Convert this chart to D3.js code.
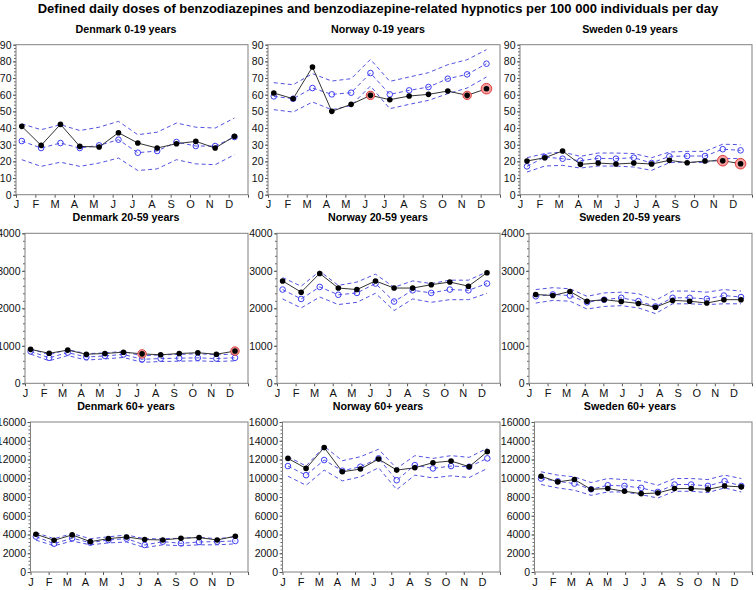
<!DOCTYPE html>
<html>
<head>
<meta charset="utf-8">
<script src="https://cdn.jsdelivr.net/npm/d3@7"></script>
<style>
  body { margin: 0; background: #fff; }
  text { font-family: "Liberation Sans", Arial, sans-serif; }
</style>
</head>
<body>
<script>
// Month labels and x positions (in month units)
const months = ["J", "F", "M", "A", "M", "J", "J", "A", "S", "O", "N", "D"];
const monthlyPos = months.map((m, i) => i + 0.3);
// Sweden reports 13 four-week periods: day of year of each period
const periodDays = [11, 39, 67, 95, 123, 151, 179, 207, 235, 263, 291, 319, 347];

const ageGroups = ["0-19 years", "20-59 years", "60+ years"];
const countries = ["Denmark", "Norway", "Sweden"];
const yMax = [90, 4000, 16000];
const yStep = [10, 1000, 2000];

// Denmark 0-19
const dk0019Obs = [41, 29.6, 42.2, 29, 28.6, 37.2, 31, 28, 30.6, 32, 28, 35];
const dk0019Exp = [32.2, 28, 31, 28, 29.6, 33, 25.2, 26.2, 31.6, 29.2, 29.2, 34.6];
const dk0019Hi = [42.5, 39, 42, 38.5, 40.5, 44, 36, 37.5, 43, 40.5, 40, 46];
const dk0019Lo = [21, 17, 19.5, 17, 19, 22, 14.5, 15.5, 21, 18.5, 18, 24];
const dk0019Flag = [0, 0, 0, 0, 0, 0, 0, 0, 0, 0, 0, 0];

// Norway 0-19
const no0019Obs = [61, 57.6, 76.6, 50, 54.2, 59.6, 57, 59.2, 60.2, 62.2, 59.6, 63.6];
const no0019Exp = [59, 57.6, 64, 60.2, 61.2, 73, 60.2, 62.6, 64.6, 69.6, 72.2, 78.6];
const no0019Hi = [67.2, 66, 72.6, 68.2, 69.6, 81.2, 68, 70.6, 73.2, 78, 81, 87];
const no0019Lo = [51, 49.6, 55.6, 51, 53.5, 65.2, 51.6, 54.2, 56.6, 60.6, 64, 70.6];
const no0019Flag = [0, 0, 0, 0, 0, 1, 0, 0, 0, 0, 1, 2];

// Sweden 0-19
const se0019Obs = [20.2, 22.2, 26.2, 18.2, 19, 18.4, 19, 18.4, 20.6, 19.2, 20.2, 20.4, 18.6];
const se0019Exp = [17, 22.6, 21.6, 20.4, 21.8, 21.6, 22.2, 19, 23, 23.2, 23.2, 27.3, 26.6];
const se0019Hi = [22.2, 24.7, 25.6, 23, 25, 25, 24.7, 22.2, 25.6, 26, 26, 30.3, 30];
const se0019Lo = [13.6, 17.2, 17.6, 16, 17.2, 17.2, 16.6, 14.6, 19.2, 19.6, 19.2, 21.7, 21.7];
const se0019Flag = [0, 0, 0, 0, 0, 0, 0, 0, 0, 0, 0, 2, 2];

// Denmark 20-59
const dk2059Obs = [905, 800, 885, 775, 795, 830, 785, 760, 795, 815, 775, 860];
const dk2059Exp = [850, 680, 820, 700, 730, 770, 640, 660, 670, 680, 660, 680];
const dk2059Hi = [920, 760, 900, 790, 810, 850, 730, 760, 770, 790, 760, 780];
const dk2059Lo = [780, 600, 740, 620, 650, 690, 560, 580, 590, 600, 580, 600];
const dk2059Flag = [0, 0, 0, 0, 0, 0, 1, 0, 0, 0, 0, 1];

// Norway 20-59
const no2059Obs = [2730, 2430, 2930, 2540, 2500, 2730, 2540, 2540, 2630, 2700, 2590, 2950];
const no2059Exp = [2500, 2250, 2570, 2360, 2410, 2660, 2180, 2480, 2410, 2500, 2480, 2660];
const no2059Hi = [2820, 2590, 2990, 2610, 2700, 2910, 2560, 2730, 2660, 2750, 2750, 2970];
const no2059Lo = [2250, 2010, 2300, 2100, 2160, 2400, 1940, 2250, 2160, 2230, 2230, 2400];
const no2059Flag = [0, 0, 0, 0, 0, 0, 0, 0, 0, 0, 0, 0];

// Sweden 20-59
const se2059Obs = [2370, 2340, 2450, 2190, 2230, 2180, 2130, 2030, 2210, 2190, 2140, 2230, 2230];
const se2059Exp = [2320, 2370, 2340, 2160, 2230, 2280, 2190, 2050, 2280, 2280, 2250, 2340, 2300];
const se2059Hi = [2500, 2550, 2520, 2320, 2410, 2430, 2390, 2210, 2460, 2460, 2430, 2500, 2460];
const se2059Lo = [2140, 2210, 2190, 1980, 2050, 2070, 2010, 1860, 2120, 2120, 2100, 2120, 2120];
const se2059Flag = [0, 0, 0, 0, 0, 0, 0, 0, 0, 0, 0, 0, 0];

// Denmark 60+
const dk60Obs = [4030, 3380, 3960, 3240, 3560, 3740, 3460, 3420, 3600, 3670, 3420, 3820];
const dk60Exp = [3780, 3020, 3600, 3130, 3420, 3560, 2880, 3240, 3060, 3200, 3240, 3310];
const dk60Hi = [4200, 3550, 4100, 3550, 3750, 3950, 3550, 3550, 3600, 3700, 3550, 3750];
const dk60Lo = [3400, 2800, 3300, 2900, 3100, 3200, 2600, 2900, 2800, 2900, 2900, 3000];
const dk60Flag = [0, 0, 0, 0, 0, 0, 0, 0, 0, 0, 0, 0];

// Norway 60+
const no60Obs = [12120, 11050, 13270, 10690, 10980, 12050, 10870, 11120, 11660, 11840, 11230, 12840];
const no60Exp = [11300, 10330, 11940, 10800, 11230, 12120, 9790, 11400, 11050, 11300, 11230, 12120];
const no60Hi = [12300, 11300, 13400, 11870, 12300, 13090, 11050, 12410, 12120, 12410, 12230, 13200];
const no60Lo = [10220, 9250, 10870, 9720, 10150, 11120, 8790, 10330, 10040, 10260, 10080, 11050];
const no60Flag = [0, 0, 0, 0, 0, 0, 0, 0, 0, 0, 0, 0];

// Sweden 60+
const se60Obs = [10220, 9610, 9860, 8820, 8900, 8610, 8360, 8430, 8900, 8900, 8820, 9180, 9080];
const se60Exp = [9970, 9680, 9430, 8820, 9250, 9180, 8970, 8540, 9330, 9330, 9180, 9680, 9180];
const se60Hi = [10690, 10330, 10150, 9540, 9970, 9860, 9720, 9250, 9970, 9970, 9860, 10330, 9970];
const se60Lo = [9330, 8970, 8720, 8180, 8540, 8540, 8250, 7890, 8610, 8610, 8470, 8970, 8540];
const se60Flag = [0, 0, 0, 0, 0, 0, 0, 0, 0, 0, 0, 0, 0];

const seriesGrid = [
    [[dk0019Obs, dk0019Exp, dk0019Hi, dk0019Lo, dk0019Flag],
     [no0019Obs, no0019Exp, no0019Hi, no0019Lo, no0019Flag],
     [se0019Obs, se0019Exp, se0019Hi, se0019Lo, se0019Flag]],
    [[dk2059Obs, dk2059Exp, dk2059Hi, dk2059Lo, dk2059Flag],
     [no2059Obs, no2059Exp, no2059Hi, no2059Lo, no2059Flag],
     [se2059Obs, se2059Exp, se2059Hi, se2059Lo, se2059Flag]],
    [[dk60Obs, dk60Exp, dk60Hi, dk60Lo, dk60Flag],
     [no60Obs, no60Exp, no60Hi, no60Lo, no60Flag],
     [se60Obs, se60Exp, se60Hi, se60Lo, se60Flag]]
];

// Layout
const width = 756, height = 590;
const cellW = 252;
const rowTops = [44.7, 233.3, 422];
const plotH = 150;
const leftPad = [16, 25, 30.5];
const rightPad = 4;

const blue = "#5252e2";
const frameColor = "#808080";
const tickFont = "10.5px";

const svg = d3.select("body").append("svg")
    .attr("width", width)
    .attr("height", height);

svg.append("text")
    .attr("x", 378)
    .attr("y", 13)
    .attr("text-anchor", "middle")
    .style("font-size", "13px")
    .style("font-weight", "bold")
    .text("Defined daily doses of benzodiazepines and benzodiazepine-related hypnotics per 100 000 individuals per day");

seriesGrid.forEach((row, r) => {
    row.forEach((series, c) => {
        const [obs, exp, hi, lo, flag] = series;
        const x0 = c * cellW + leftPad[r];
        const x1 = (c + 1) * cellW - rightPad;
        const y0 = rowTops[r];
        const y1 = y0 + plotH;

        const xPos = obs.length === 13
            ? periodDays.map(d => d / 365 * 12)
            : monthlyPos;

        const x = d3.scaleLinear().domain([0, 12]).range([x0, x1]);
        const y = d3.scaleLinear().domain([0, yMax[r]]).range([y1, y0]);

        const g = svg.append("g");

        // panel title
        g.append("text")
            .attr("x", c * cellW + 126)
            .attr("y", y0 - 12)
            .attr("text-anchor", "middle")
            .style("font-size", "10.7px")
            .style("font-weight", "bold")
            .text(countries[c] + " " + ageGroups[r]);

        // minor y ticks
        g.append("g")
            .attr("transform", `translate(${x0},0)`)
            .call(d3.axisLeft(y)
                .tickValues(d3.range(0, yMax[r] + 1e-6, yStep[r] / 5))
                .tickSize(2)
                .tickFormat(""))
            .call(a => a.select(".domain").remove())
            .call(a => a.selectAll("line").attr("stroke", "#666"));

        // major y ticks
        g.append("g")
            .attr("transform", `translate(${x0},0)`)
            .call(d3.axisLeft(y)
                .tickValues(d3.range(0, yMax[r] + 1e-6, yStep[r]))
                .tickSize(3)
                .tickPadding(1.5)
                .tickFormat(d3.format("d")))
            .call(a => a.select(".domain").remove())
            .call(a => a.selectAll("line").attr("stroke", "#555"))
            .call(a => a.selectAll("text")
                .style("font-size", tickFont)
                .style("font-family", "'Liberation Sans', Arial, sans-serif")
                .attr("fill", "#111"));

        // x axis with month ticks
        g.append("g")
            .attr("transform", `translate(0,${y1})`)
            .call(d3.axisBottom(x)
                .tickValues(d3.range(0, 13))
                .tickSize(3)
                .tickPadding(3)
                .tickFormat(i => months[i] || ""))
            .call(a => a.select(".domain").remove())
            .call(a => a.selectAll("line").attr("stroke", "#555"))
            .call(a => a.selectAll("text")
                .style("font-size", "11px")
                .style("font-family", "'Liberation Sans', Arial, sans-serif")
                .attr("fill", "#111"));

        // frame
        g.append("rect")
            .attr("x", x0)
            .attr("y", y0)
            .attr("width", x1 - x0)
            .attr("height", y1 - y0)
            .attr("fill", "none")
            .attr("stroke", frameColor)
            .attr("stroke-width", 1);

        const line = d3.line()
            .x((d, i) => x(xPos[i]))
            .y(d => y(d));

        // expected value and limits (dashed)
        [hi, exp, lo].forEach(vals => {
            g.append("path")
                .attr("d", line(vals))
                .attr("fill", "none")
                .attr("stroke", blue)
                .attr("stroke-width", 1)
                .attr("stroke-dasharray", "4,3");
        });

        g.selectAll(".exp-pt")
            .data(exp)
            .enter()
            .append("circle")
            .attr("class", "exp-pt")
            .attr("cx", (d, i) => x(xPos[i]))
            .attr("cy", d => y(d))
            .attr("r", 2.8)
            .attr("fill", "none")
            .attr("stroke", "#3d3df5")
            .attr("stroke-width", 1);

        // observed line
        g.append("path")
            .attr("d", line(obs))
            .attr("fill", "none")
            .attr("stroke", "#333")
            .attr("stroke-width", 1);

        // highlighted (signal) points
        g.selectAll(".flag-pt")
            .data(obs.map((d, i) => ({ v: d, i: i, f: flag[i] })).filter(d => d.f > 0))
            .enter()
            .append("circle")
            .attr("class", "flag-pt")
            .attr("cx", d => x(xPos[d.i]))
            .attr("cy", d => y(d.v))
            .attr("r", d => d.f === 2 ? 5.3 : 4.2)
            .attr("fill", "#f2a0a0")
            .attr("stroke", "#e03a3a")
            .attr("stroke-width", 1);

        g.selectAll(".obs-pt")
            .data(obs)
            .enter()
            .append("circle")
            .attr("class", "obs-pt")
            .attr("cx", (d, i) => x(xPos[i]))
            .attr("cy", d => y(d))
            .attr("r", 2.8)
            .attr("fill", "#000");
    });
});
</script>
</body>
</html>
